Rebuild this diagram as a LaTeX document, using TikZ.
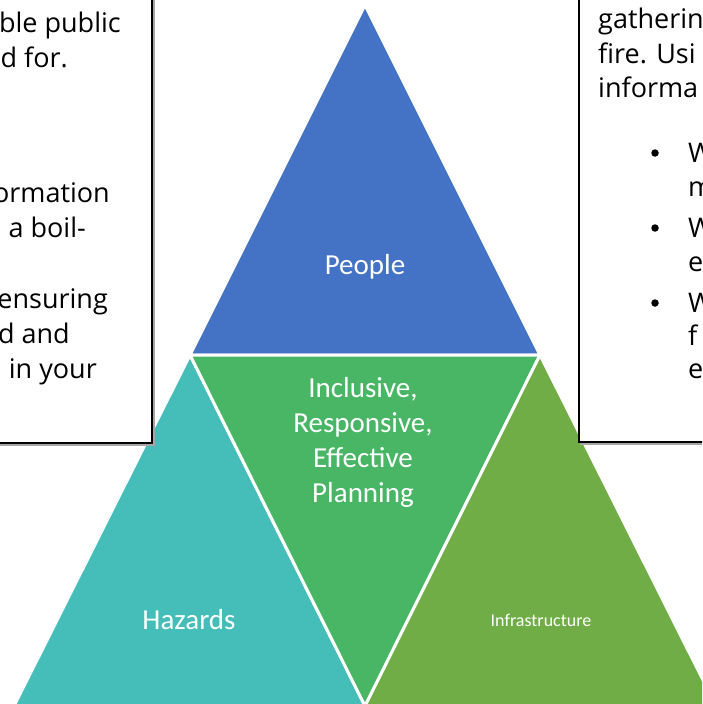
\documentclass[tikz,border=0pt]{standalone}
\usepackage{fontspec}
\setmainfont{Carlito}
\newfontfamily\notefont{Open Sans}
\definecolor{peopleblue}{HTML}{4472C4}
\definecolor{hazteal}{HTML}{45BDB8}
\definecolor{planGreen}{HTML}{48B665}
\definecolor{infraGreen}{HTML}{70AD47}
\tikzset{
  tri/.style={draw=white,line width=3pt,line join=miter},
  lbl/.style={text=white,font=\fontsize{29}{35}\selectfont,align=center,inner sep=0pt},
  notebox/.style={draw=black,line width=1.3pt,fill=white},
  boxshade/.style={draw=gray!70,line width=1.3pt},
  notetxt/.style={font=\notefont\fontsize{27}{32}\selectfont,inner sep=0pt},
  dotmark/.style={circle,fill=black,inner sep=0pt,minimum size=7.5pt}
}

\begin{document}
\begin{tikzpicture}[x=1pt,y=-1pt]
    \useasboundingbox (0,0) rectangle (702,704);
    \clip (0,0) rectangle (702,704);
    % corners of the pyramid
    \coordinate (apex) at (365,5);
    \coordinate (midL) at (190,355);
    \coordinate (midR) at (540,355);
    \coordinate (baseL) at (14,706);
    \coordinate (baseM) at (365,706);
    \coordinate (baseR) at (716,706);
    \filldraw[tri,fill=peopleblue](apex)--(midL)--(midR)--cycle;
    \filldraw[tri,fill=hazteal](midL)--(baseL)--(baseM)--cycle;
    \filldraw[tri,fill=planGreen](midL)--(midR)--(baseM)--cycle;
    \filldraw[tri,fill=infraGreen](midR)--(baseM)--(baseR)--cycle;
    \node[lbl](people)at(365,267){People};
    \node[lbl](planning)at(363,442){Inclusive,\\Responsive,\\Effective\\Planning};
    \node[lbl](hazards)at(189,620){Hazards};
    \node[lbl,font=\fontsize{18}{22}\selectfont](infra)at(541,620){Infrastructure};
    % left note
    \draw[boxshade](-10,-10)rectangle(154,445);
    \draw[notebox](-10,-10)rectangle(152,443);
    \node[notetxt,anchor=base east](l1)at(121,32){ble public};
    \node[notetxt,anchor=base east](l2)at(68,67){d for.};
    \node[notetxt,anchor=base east](l3)at(110,202){ormation};
    \node[notetxt,anchor=base east](l4)at(86,237){a boil-};
    \node[notetxt,anchor=base east](l5)at(108,308){ensuring};
    \node[notetxt,anchor=base east](l6)at(70,343){d and};
    \node[notetxt,anchor=base east](l7)at(97,378){in your};
    % right note
    \draw[boxshade](581,-10)rectangle(712,444);
    \draw[notebox](579,-10)rectangle(712,442);
    \node[notetxt,anchor=base west](r1)at(598,28){gatherin};
    \node[notetxt,anchor=base west](r2)at(598,63){fire. Usi};
    \node[notetxt,anchor=base west](r3)at(598,97){informa};
    \foreach \y in {153,228,303}
        \node[dotmark](dot\y)at(655,\y){};
    \node[notetxt,anchor=base west](w1)at(688,162){W};
    \node[notetxt,anchor=base west](w1b)at(688,196){m};
    \node[notetxt,anchor=base west](w2)at(688,237){W};
    \node[notetxt,anchor=base west](w2b)at(688,271){e};
    \node[notetxt,anchor=base west](w3)at(688,312){W};
    \node[notetxt,anchor=base west](w3b)at(688,345){f};
    \node[notetxt,anchor=base west](w3c)at(688,378){e};
\end{tikzpicture}
\end{document}
